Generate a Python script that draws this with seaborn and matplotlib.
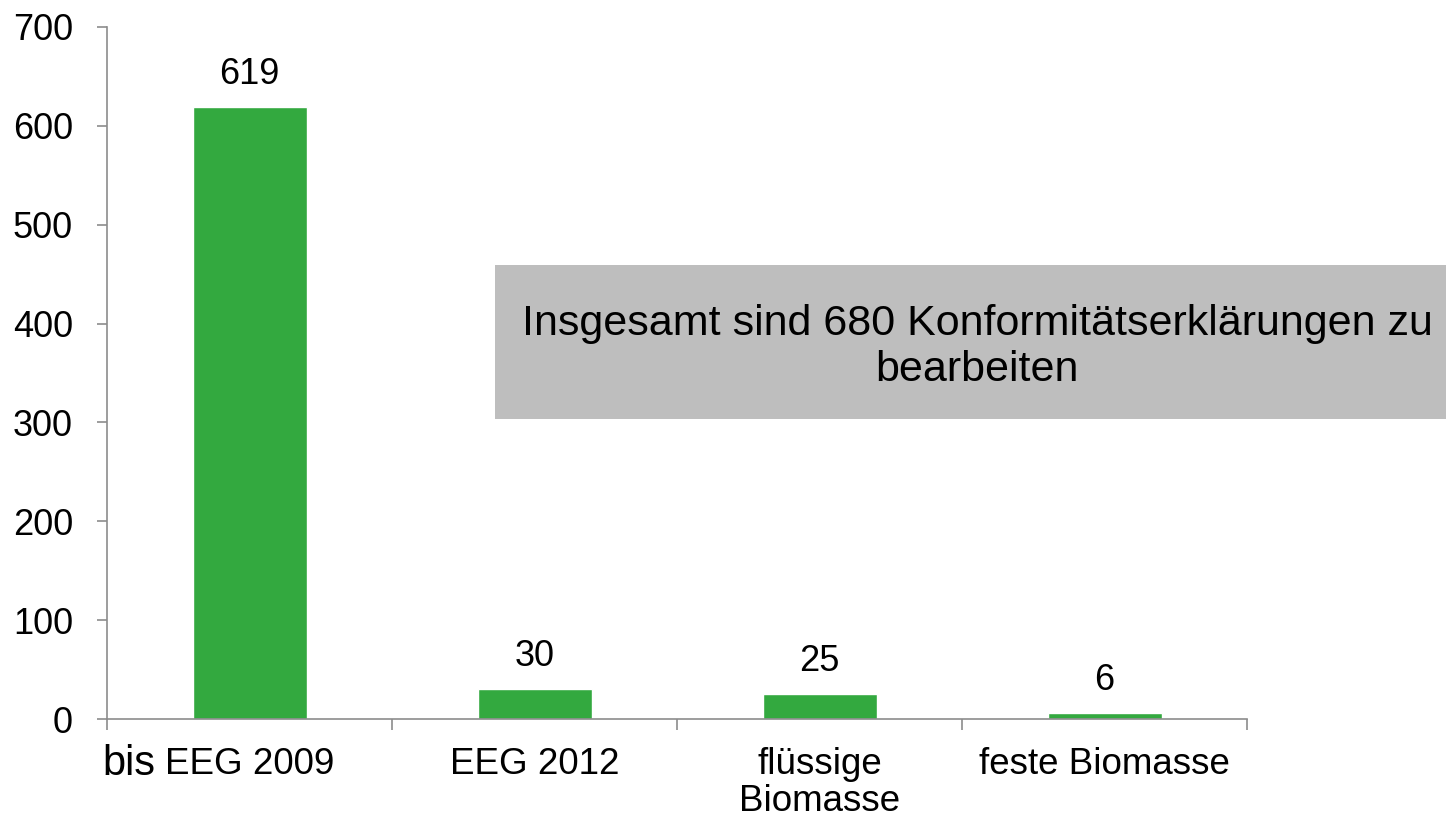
import matplotlib
matplotlib.use("Agg")
import matplotlib.pyplot as plt
import seaborn as sns
import pandas as pd
from matplotlib.patches import Rectangle

categories = ["EEG 2009", "EEG 2012", "flüssige\nBiomasse", "feste Biomasse"]
values = [619, 30, 25, 6]
note = "Insgesamt sind 680 Konformitätserklärungen zu\nbearbeiten"

sns.set_style("white")
plt.rcParams['font.family'] = ['Liberation Sans', 'DejaVu Sans']
plt.rcParams['text.color'] = 'black'
plt.rcParams['xtick.color'] = 'black'
plt.rcParams['ytick.color'] = 'black'

df = pd.DataFrame({"kategorie": categories, "anzahl": values})

fig = plt.figure(figsize=(14.46, 8.22), dpi=100)
ax = fig.add_axes([0.074, 0.1253, 0.7884, 0.8419])

sns.barplot(data=df, x="kategorie", y="anzahl", color="#33A93F",
            saturation=1, width=0.4, ax=ax)

for i, v in enumerate(values):
    ax.annotate(str(v), xy=(i, v), xytext=(0, 11), textcoords="offset points",
                ha="center", va="bottom", fontsize=26)

ax.set_xlim(-0.5, len(categories) - 0.5)
ax.set_ylim(0, 700)
ax.set_yticks(range(0, 701, 100))
ax.set_xlabel("")
ax.set_ylabel("")

for s in ["top", "right"]:
    ax.spines[s].set_visible(False)
for s in ["left", "bottom"]:
    ax.spines[s].set_color("#8c8c8c")
    ax.spines[s].set_linewidth(1.2)

ax.tick_params(axis="y", which="major", left=True, length=7.5, width=1.2,
               color="#8c8c8c", labelcolor="black", pad=17, labelsize=26)
ax.tick_params(axis="x", which="major", length=0, pad=20, labelsize=26.5,
               labelcolor="black")
for lbl in ax.get_xticklabels():
    lbl.set_linespacing(1.1)
ax.set_xticks([i - 0.5 for i in range(len(categories) + 1)], minor=True)
ax.tick_params(axis="x", which="minor", bottom=True, length=8, width=1.2,
               color="#8c8c8c")

fig.text(155 / 1446, 1 - 775 / 822, "bis", ha="right", va="baseline",
         fontsize=30)

fig.patches.append(Rectangle((495 / 1446, 1 - 419 / 822), 0.7, 154 / 822,
                             transform=fig.transFigure, facecolor="#bebebe",
                             edgecolor="none", zorder=0))
fig.text(977 / 1446, 1 - 347 / 822, note, ha="center", va="center",
         fontsize=31, linespacing=1.2)

fig.savefig("out.png", dpi=100)
plt.close(fig)
